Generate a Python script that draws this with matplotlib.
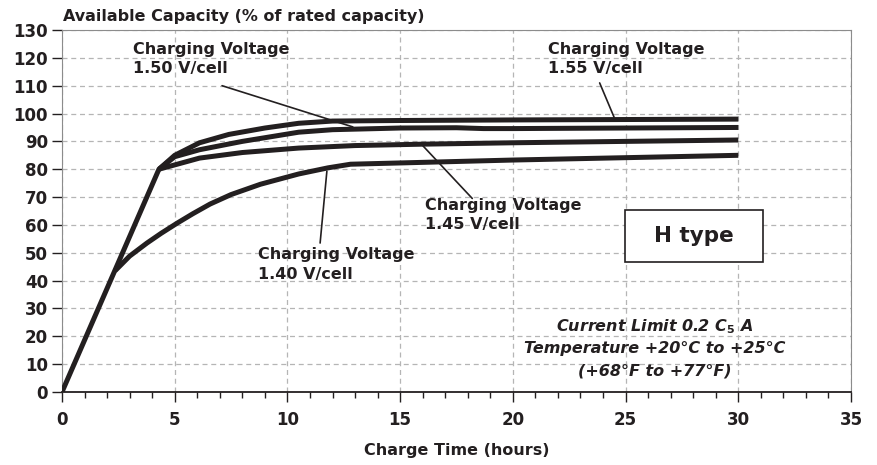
import matplotlib
matplotlib.use("Agg")
import matplotlib.pyplot as plt
from matplotlib.patches import Rectangle
from matplotlib.ticker import MultipleLocator

# charge curves (hours, % of rated capacity)
t_155 = [0, 4.3, 5.0, 6.1, 7.4, 9.0, 10.5, 12.0, 15.0, 20.0, 30.0]
c_155 = [0, 80, 85, 89.5, 92.5, 94.8, 96.5, 97.3, 97.5, 97.7, 98.0]

t_150 = [4.3, 5.0, 6.1, 8.0, 10.5, 12.0, 15.0, 17.5, 18.7, 20.0, 30.0]
c_150 = [80, 84.5, 87.0, 90.0, 93.3, 94.2, 94.8, 94.9, 94.6, 94.6, 95.0]

t_145 = [4.3, 6.1, 8.0, 10.5, 13.0, 16.0, 20.0, 30.0]
c_145 = [80, 84.0, 86.0, 87.6, 88.5, 89.0, 89.5, 90.5]

t_140 = [2.35, 3.0, 3.77, 4.4, 5.1, 5.8, 6.57, 7.5, 8.8, 10.5, 11.8, 12.8, 20.0, 30.0]
c_140 = [43.5, 48.8, 53.5, 57.0, 60.6, 64.0, 67.5, 70.9, 74.6, 78.3, 80.5, 81.8, 83.3, 85.0]

labels = ["Charging Voltage\n1.50 V/cell", "Charging Voltage\n1.55 V/cell",
          "Charging Voltage\n1.45 V/cell", "Charging Voltage\n1.40 V/cell"]

ink = "#231f20"
plt.rcParams['font.family'] = ['DejaVu Sans']

fig = plt.figure(figsize=(8.78, 4.65), dpi=100)
ax = fig.add_axes([62/878, 1 - 392/465, (851 - 62)/878, (392 - 30)/465])

for t, c in [(t_155, c_155), (t_150, c_150), (t_145, c_145), (t_140, c_140)]:
    ax.plot(t, c, color=ink, lw=3.6, solid_joinstyle='round', solid_capstyle='butt', zorder=3)

ax.set_xlim(0, 35)
ax.set_ylim(0, 130)
ax.xaxis.set_major_locator(MultipleLocator(5))
ax.xaxis.set_minor_locator(MultipleLocator(1))
ax.yaxis.set_major_locator(MultipleLocator(10))
ax.grid(True, which='major', linestyle=(0, (4, 3)), color='#b5b5b5', lw=0.9)
ax.tick_params(axis='both', which='major', length=7, width=1.0, color=ink,
               labelsize=12, labelcolor=ink)
ax.tick_params(axis='x', which='minor', length=4, width=1.0, color=ink)
ax.tick_params(axis='x', pad=7)
ax.tick_params(axis='y', pad=3)
for lab in ax.get_xticklabels() + ax.get_yticklabels():
    lab.set_fontweight('bold')
for s in ['top', 'right', 'left']:
    ax.spines[s].set_color('#8c8c8c')
ax.spines['bottom'].set_color(ink)
ax.spines['bottom'].set_linewidth(1.3)

fs = 11.5
kw = dict(fontsize=fs, color=ink, fontweight='bold', ha='left', va='top', linespacing=1.4)
arrow = dict(arrowstyle='-', color=ink, lw=1.2, shrinkA=0, shrinkB=0)

ax.text(3.15, 125.8, labels[0], **kw)
ax.annotate('', xy=(12.9, 95.2), xytext=(7.1, 110), arrowprops=arrow)

ax.text(21.55, 125.8, labels[1], **kw)
ax.annotate('', xy=(24.5, 98.5), xytext=(23.85, 111), arrowprops=arrow)

ax.text(16.1, 69.8, labels[2], **kw)
ax.annotate('', xy=(16.0, 88.5), xytext=(18.2, 69.5), arrowprops=arrow)

ax.text(8.7, 52.0, labels[3], **kw)
ax.annotate('', xy=(11.75, 79.3), xytext=(11.45, 53.5), arrowprops=arrow)

ax.add_patch(Rectangle((24.98, 46.7), 6.12, 18.6, fc='white', ec=ink, lw=1.2, zorder=4))
ax.text(28.05, 56.0, "H type", fontsize=15.5, color=ink, fontweight='bold',
        ha='center', va='center', zorder=5)

ikw = dict(fontsize=11.5, color=ink, style='italic', fontweight='bold', ha='center', va='center')
ax.text(26.3, 23.3, r"Current Limit 0.2 C$_\mathbf{5}$ A", **ikw)
ax.text(26.3, 15.8, "Temperature +20°C to +25°C", **ikw)
ax.text(26.3, 7.6, "(+68°F to +77°F)", **ikw)

ax.set_xlabel("Charge Time (hours)", fontsize=11.5, color=ink, fontweight='bold', labelpad=10)
fig.text(63/878, 1 - 16/465, "Available Capacity (% of rated capacity)", fontsize=11.5,
         color=ink, fontweight='bold', ha='left', va='center')

fig.savefig("out.png", dpi=100)
